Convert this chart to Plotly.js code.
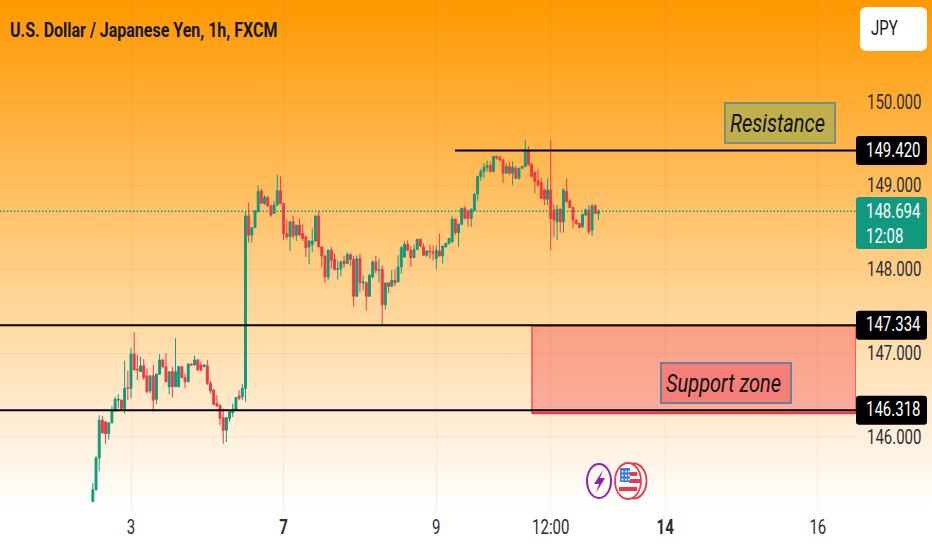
<!DOCTYPE html>
<html>
<head>
<meta charset="utf-8">
<script src="https://cdn.plot.ly/plotly-3.0.1.min.js"></script>
<style>
html,body{margin:0;padding:0;width:932px;height:550px;overflow:hidden;background:#fff}
#chart{width:932px;height:550px;background:linear-gradient(180deg,#ff9800 0px,#ffffff 510px,#ffffff 550px)}
</style>
</head>
<body>
<div id="chart"></div>
<script>
var open_ = [145.23,145.37,145.75,146.20,146.18,146.04,146.17,146.31,146.44,146.44,146.34,146.59,146.58,146.99,146.81,146.78,146.85,146.73,146.55,146.73,
146.45,146.75,146.92,146.84,146.60,146.78,146.60,146.60,146.84,146.71,146.66,146.87,146.86,146.92,146.86,146.84,146.85,146.64,146.56,146.40,
146.38,146.23,146.08,146.22,146.29,146.33,146.49,146.48,146.58,148.64,148.41,148.50,148.69,148.94,148.79,148.86,148.76,148.67,148.77,148.94,
148.79,148.43,148.39,148.57,148.41,148.53,148.43,148.39,148.27,148.30,148.34,148.64,148.27,148.16,147.91,148.23,148.12,148.00,148.01,148.10,
148.07,148.18,148.12,147.68,148.13,147.84,147.84,147.68,147.91,148.09,147.99,148.00,147.58,147.84,147.80,147.87,147.85,148.03,148.15,148.30,
148.23,148.14,148.24,148.36,148.27,148.17,148.22,148.21,148.13,148.22,148.16,148.27,148.31,148.33,148.60,148.44,148.54,148.73,148.69,148.61,
148.71,148.90,149.11,149.17,149.22,149.24,149.17,149.35,149.34,149.31,149.15,149.23,149.15,149.21,149.09,149.21,149.23,149.41,149.25,149.16,
149.06,149.04,148.95,148.84,148.95,148.71,148.57,148.72,148.57,148.93,148.82,148.74,148.59,148.55,148.51,148.65,148.71,148.47,148.76,148.67];
var high = [145.45,145.77,146.26,146.25,146.19,146.17,146.37,146.48,146.51,146.45,146.91,146.79,147.06,147.25,146.98,146.96,146.93,146.82,146.74,146.86,
146.76,146.99,146.93,147.00,146.78,146.84,147.18,146.85,146.85,146.76,146.88,146.88,146.97,146.93,146.90,146.87,146.92,146.67,146.57,146.50,
146.38,146.34,146.24,146.32,146.40,146.48,146.56,146.63,148.69,148.80,148.50,148.71,149.00,148.96,148.89,148.88,148.77,148.82,149.13,149.11,
148.79,148.60,148.58,148.64,148.53,148.61,148.54,148.39,148.35,148.49,148.64,148.69,148.28,148.17,148.24,148.27,148.19,148.11,148.11,148.16,
148.21,148.19,148.16,148.17,148.19,147.93,147.86,147.95,148.11,148.16,148.13,148.05,147.84,147.85,147.99,148.00,148.17,148.28,148.34,148.35,
148.28,148.30,148.36,148.37,148.31,148.23,148.30,148.29,148.29,148.43,148.28,148.32,148.38,148.64,148.61,148.55,148.74,148.76,148.72,148.73,
148.91,149.12,149.20,149.27,149.30,149.29,149.36,149.36,149.36,149.32,149.27,149.28,149.29,149.24,149.21,149.24,149.55,149.47,149.28,149.17,
149.20,149.09,148.97,149.09,149.55,148.78,148.77,148.73,148.97,149.09,148.84,148.75,148.60,148.56,148.66,148.73,148.77,148.79,148.78,148.72];
var low = [145.22,145.36,145.59,146.04,145.92,145.97,146.16,146.30,146.34,146.32,146.28,146.44,146.46,146.80,146.68,146.78,146.68,146.52,146.52,146.30,
146.39,146.74,146.82,146.65,146.51,146.47,146.60,146.60,146.71,146.58,146.65,146.85,146.85,146.79,146.78,146.83,146.62,146.52,146.38,146.36,
146.14,145.92,145.94,146.18,146.24,146.32,146.44,146.44,146.42,148.32,148.32,148.50,148.68,148.79,148.77,148.75,148.63,148.67,148.76,148.78,
148.35,148.36,148.22,148.37,148.34,148.41,148.34,148.15,148.06,148.21,148.33,148.27,148.02,147.84,147.87,148.01,147.99,147.88,147.92,148.02,
148.07,148.04,147.56,147.68,147.73,147.75,147.51,147.68,147.89,147.95,147.84,147.35,147.52,147.72,147.79,147.80,147.85,147.95,148.14,148.22,
148.03,148.14,148.23,148.27,148.16,148.15,148.13,148.11,148.01,148.16,148.07,148.26,148.30,148.32,148.41,148.27,148.53,148.60,148.51,148.51,
148.69,148.82,149.06,149.09,149.17,149.16,149.16,149.31,149.29,149.03,149.14,149.13,149.01,149.08,149.07,149.20,149.22,149.24,149.10,148.91,
148.99,148.85,148.77,148.77,148.23,148.39,148.35,148.44,148.44,148.80,148.74,148.49,148.53,148.49,148.49,148.64,148.42,148.40,148.66,148.59];
var close_ = [145.37,145.75,146.20,146.05,146.04,146.17,146.31,146.45,146.45,146.34,146.58,146.58,146.99,146.80,146.80,146.85,146.71,146.54,146.73,146.44,
146.75,146.92,146.84,146.66,146.78,146.60,146.78,146.84,146.71,146.66,146.87,146.86,146.92,146.80,146.80,146.86,146.64,146.55,146.39,146.37,
146.22,146.08,146.23,146.30,146.33,146.47,146.46,146.58,148.64,148.41,148.50,148.70,148.93,148.79,148.86,148.76,148.65,148.77,148.94,148.79,
148.43,148.39,148.57,148.40,148.53,148.41,148.37,148.26,148.34,148.34,148.64,148.27,148.16,147.91,148.23,148.11,148.00,148.01,148.09,148.07,
148.18,148.12,147.68,148.13,147.84,147.85,147.68,147.93,148.09,147.99,148.00,147.58,147.84,147.80,147.87,147.84,148.03,148.26,148.30,148.23,
148.14,148.24,148.36,148.28,148.17,148.22,148.21,148.20,148.23,148.16,148.28,148.31,148.37,148.60,148.44,148.54,148.73,148.61,148.61,148.72,
148.90,149.11,149.17,149.22,149.24,149.17,149.35,149.33,149.31,149.15,149.23,149.15,149.22,149.09,149.21,149.23,149.43,149.25,149.11,149.05,
149.01,148.85,148.84,148.95,148.61,148.59,148.72,148.57,148.95,148.81,148.74,148.59,148.55,148.50,148.66,148.71,148.45,148.76,148.67,148.694];

var tickIndex = [12,60,108,144,180,228];
var tickLabels = ['3','<b>7</b>','9','12:00','<b>14</b>','16'];
var priceTicks = [146,147,148,149,150];
var resistance = 149.420, supportTop = 147.334, supportBottom = 146.318, lastPrice = 148.694;
var zoneTop = 147.325, zoneBottom = 146.286, zoneStart = 138.1, resistanceStart = 113.9;
var titleText = 'U.S. Dollar / Japanese Yen, 1h, FXCM';

var FONT = 'Roboto, sans-serif';
var GREEN = '#11997f', RED = '#f23645', INK = '#2a2e39';
var xs = open_.map(function(_, i){ return i; });

var W = 856, H = 510, YTOP = 151.218, YBOT = 145.128;
function fx(x){ return x / W; }
function fy(y){ return (H - y) / H; }
function priceY(p){ return (YTOP - p) / (YTOP - YBOT) * H; }
function rrect(x0,y0,x1,y1,r,fill){
  function P(x,y){ return fx(x)+','+fy(y); }
  var d = 'M'+P(x0+r,y0)+' L'+P(x1-r,y0)+' Q'+P(x1,y0)+' '+P(x1,y0+r)+' L'+P(x1,y1-r)+' Q'+P(x1,y1)+' '+P(x1-r,y1)+
          ' L'+P(x0+r,y1)+' Q'+P(x0,y1)+' '+P(x0,y1-r)+' L'+P(x0,y0+r)+' Q'+P(x0,y0)+' '+P(x0+r,y0)+' Z';
  return {type:'path', xref:'paper', yref:'paper', path:d, fillcolor:fill, line:{width:0}};
}
function box(x0,y0,x1,y1,fill){
  return {type:'rect', xref:'paper', yref:'paper', x0:fx(x0), x1:fx(x1), y0:fy(y1), y1:fy(y0), fillcolor:fill, line:{width:0}};
}
function ell(cx,cy,rx,ry,fill,stroke,sw){
  return {type:'circle', xref:'paper', yref:'paper', x0:fx(cx-rx), x1:fx(cx+rx), y0:fy(cy+ry), y1:fy(cy-ry), fillcolor:fill, line:{color:stroke, width:sw}};
}
function poly(pts,fill){
  var d = pts.map(function(p,i){ return (i?'L':'M')+fx(p[0])+','+fy(p[1]); }).join(' ')+' Z';
  return {type:'path', xref:'paper', yref:'paper', path:d, fillcolor:fill, line:{width:0}};
}
function tagShape(p){ var c = priceY(p); return rrect(856,c-14.5,927,c+14.5,3,'#000'); }
function tagText(p,t){
  return {xref:'paper', yref:'y', x:867/W, xanchor:'left', xshift:-3, y:p, showarrow:false, text:t, font:{family:FONT, size:15, color:'#fff'}};
}

var shapes = [
  {type:'rect', xref:'x', yref:'y', x0:zoneStart, x1:240, y0:zoneBottom, y1:zoneTop, fillcolor:'rgba(242,54,69,0.35)', line:{color:'rgba(242,54,69,0.85)', width:1.5}},
  {type:'line', xref:'x', yref:'y', x0:zoneStart, x1:240, y0:zoneBottom, y1:zoneBottom, line:{color:RED, width:2.5}},
  {type:'line', xref:'paper', yref:'y', x0:0, x1:1, y0:lastPrice, y1:lastPrice, line:{color:'#089981', width:1.5, dash:'1.5px,2px'}},
  {type:'line', xref:'x', yref:'y', x0:resistanceStart, x1:240, y0:resistance, y1:resistance, line:{color:'#000', width:2}},
  {type:'line', xref:'paper', yref:'y', x0:0, x1:1, y0:supportTop, y1:supportTop, line:{color:'#000', width:2}},
  {type:'line', xref:'paper', yref:'y', x0:0, x1:1, y0:supportBottom, y1:supportBottom, line:{color:'#000', width:2}},
  tagShape(resistance), tagShape(supportTop), tagShape(supportBottom),
  rrect(856,197,927,249,3,GREEN),
  rrect(860,7,927,51,7,'#fff'),
  // news icons
  ell(599,481,12,17,'rgba(255,255,255,0)','#8e24aa',2),
  poly([[603,470],[594,484],[599,484],[596,493],[605,478],[600,478]],'#8e24aa'),
  ell(634,481,12.5,17.5,'#fff',RED,1.8),
  ell(628,481,13,18,'#fff',RED,1.8),
  box(629,472,637,476,RED),
  box(629,479,640,483,RED),
  box(619,487,637,491,RED),
  box(620,468,630,482,'#3f7fd0')
];
[622.5,626,629].forEach(function(x){ [471.5,475.5,479.5].forEach(function(y){ shapes.push(ell(x,y,0.9,1.1,'#fff','#fff',0)); }); });

var annotations = [
  {xref:'x', yref:'y', x:216.1, y:149.75, showarrow:false, text:'<i>Resistance</i>&nbsp;', font:{family:FONT, size:20, color:'#111'},
   bgcolor:'#c0b04c', bordercolor:'#7c8c80', borderwidth:2, width:106, height:36},
  {xref:'x', yref:'y', x:199.1, y:146.64, showarrow:false, text:'<i>Support zone</i>&nbsp;', font:{family:FONT, size:20, color:'#111'},
   bgcolor:'#f57f78', bordercolor:'#6b7f98', borderwidth:2, width:126, height:36},
  tagText(resistance,'149.420'), tagText(supportTop,'147.334'), tagText(supportBottom,'146.318'),
  {xref:'paper', yref:'y', x:867/W, xanchor:'left', xshift:-3, y:148.54, showarrow:false, align:'left', text:'148.694<br>12:08', font:{family:FONT, size:15, color:'#fff'}},
  {xref:'paper', yref:'paper', x:871/W, xanchor:'left', xshift:-2, y:fy(29), yanchor:'middle', showarrow:false, align:'left', text:'JPY', font:{family:FONT, size:15, color:'#131722'}}
];

var trace = {
  type:'candlestick', x:xs, open:open_, high:high, low:low, close:close_,
  increasing:{line:{color:GREEN, width:1}, fillcolor:GREEN},
  decreasing:{line:{color:RED, width:1}, fillcolor:RED},
  whiskerwidth:0, hoverinfo:'skip'
};

var layout = {
  width:932, height:550,
  margin:{l:0, r:76, t:0, b:40, pad:0},
  paper_bgcolor:'rgba(0,0,0,0)', plot_bgcolor:'rgba(0,0,0,0)',
  showlegend:false, dragmode:false, boxgap:0.15,
  title:{text:'<b>'+titleText+'</b>', x:10/932, xanchor:'left', y:1-30/550, yanchor:'middle', font:{family:FONT, size:16, color:'#131722'}},
  xaxis:{type:'linear', range:[-29.2,240], rangeslider:{visible:false}, tickmode:'array', tickvals:tickIndex, ticktext:tickLabels,
    showgrid:true, gridcolor:'rgba(120,100,60,0.09)', gridwidth:1, zeroline:false, showline:false, ticks:'outside', ticklen:4, tickcolor:'rgba(0,0,0,0)',
    tickfont:{family:FONT, size:15, color:INK}, fixedrange:true},
  yaxis:{side:'right', range:[YBOT,YTOP], tickmode:'array', tickvals:priceTicks, tickformat:'.3f',
    showgrid:true, gridcolor:'rgba(120,100,60,0.09)', gridwidth:1, zeroline:false, showline:false, ticks:'outside', ticklen:7, tickcolor:'rgba(0,0,0,0)',
    tickfont:{family:FONT, size:15, color:INK}, fixedrange:true},
  shapes:shapes, annotations:annotations
};

Plotly.newPlot('chart',[trace],layout,{displayModeBar:false, staticPlot:true}).then(function(){
  // the reference's lettering is taller than it is wide
  document.querySelectorAll('#chart svg text').forEach(function(t){
    var b = t.getBBox(), cx = b.x + b.width/2, cy = b.y + b.height/2, old = t.getAttribute('transform') || '';
    t.setAttribute('transform', old+' translate('+cx+','+cy+') scale(1,1.3) translate('+(-cx)+','+(-cy)+')');
  });
});
</script>
</body>
</html>
